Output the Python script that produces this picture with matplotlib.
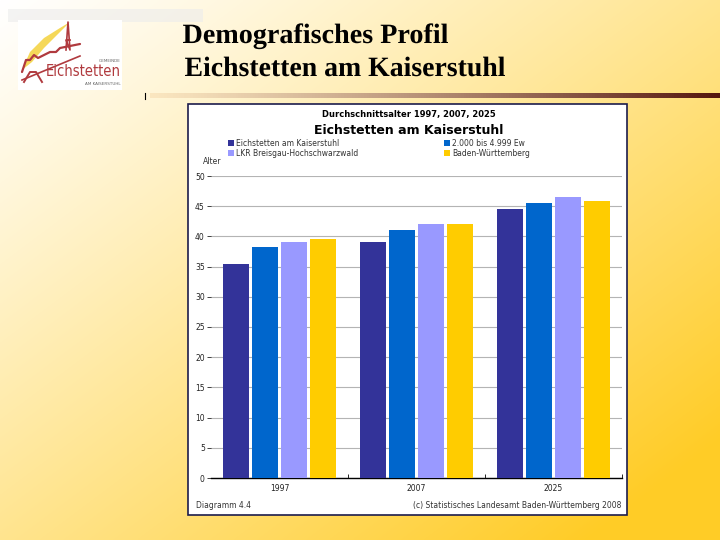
import numpy as np
import matplotlib
matplotlib.use('Agg')
import matplotlib.pyplot as plt
from matplotlib.patches import Rectangle, PathPatch, Polygon
from matplotlib.textpath import TextPath
from matplotlib.font_manager import FontProperties
from matplotlib.transforms import Affine2D

years = ['1997', '2007', '2025']
series = ['Eichstetten am Kaiserstuhl', '2.000 bis 4.999 Ew',
          'LKR Breisgau-Hochschwarzwald', 'Baden-Württemberg']
eichstetten = [35.5, 39.0, 44.6]
gemeinden = [38.2, 41.1, 45.5]
landkreis = [39.1, 42.1, 46.6]
bw = [39.6, 42.1, 45.8]
colors = ['#333399', '#0066cc', '#9999ff', '#ffcc00']

fig = plt.figure(figsize=(7.2, 5.4), dpi=100)

# slide background (pixel coordinates)
bg = fig.add_axes([0, 0, 1, 1])
xx, yy = np.meshgrid(np.linspace(0, 1, 360), np.linspace(0, 1, 270))
t = np.clip(0.55 * xx + 0.55 * yy, 0, 1) ** 1.1
c0 = np.array([1.0, 1.0, 1.0])
c1 = np.array([1.0, 0.80, 0.15])
img = c0[None, None, :] * (1 - t[..., None]) + c1[None, None, :] * t[..., None]
bg.imshow(img, extent=[0, 720, 540, 0], aspect='auto', interpolation='bilinear')
bg.set_xlim(0, 720)
bg.set_ylim(540, 0)
bg.axis('off')

# grey band + logo
bg.add_patch(Rectangle((8, 9), 195, 13, facecolor='#ececec', edgecolor='none', alpha=0.6))
bg.add_patch(Rectangle((18, 20), 104, 70, facecolor='white', edgecolor='none'))
bg.add_patch(Polygon([(22, 70), (30, 52), (44, 38), (60, 28), (70, 22), (58, 34), (44, 48), (32, 62)],
                     closed=True, facecolor='#f4d23c', edgecolor='none', alpha=0.85))
bg.plot([22, 26, 30, 34, 38, 44, 50, 56, 60, 80], [72, 60, 60, 55, 58, 55, 52, 52, 48, 44],
        color='#b03a3e', lw=1.6, solid_capstyle='round')
bg.plot([24, 30, 36, 42], [82, 72, 72, 82], color='#b03a3e', lw=1.4)
bg.plot([66, 68, 70, 66, 70], [50, 22, 50, 40, 40], color='#b03a3e', lw=1.2)
bg.plot([22, 80], [80, 56], color='#b03a3e', lw=1.2)
bg.text(121, 61, 'GEMEINDE', fontsize=3, color='#666666', ha='right', va='center')
bg.text(121, 71, 'Eichstetten', fontsize=10.5, color='#b03a3e', ha='right', va='center',
        family='DejaVu Sans', fontstretch='condensed')
bg.text(121, 84, 'AM KAISERSTUHL', fontsize=3, color='#666666', ha='right', va='center')

# slide title (vertically stretched serif)
fp = FontProperties(family='Liberation Serif', weight='bold')
for txt, x0, base, width in [('Demografisches Profil', 183, 43, 265),
                             ('Eichstetten am Kaiserstuhl', 185, 76, 320)]:
    tp = TextPath((0, 0), txt, size=1, prop=fp)
    ext = tp.get_extents()
    sx = width / ext.width
    sy = 18.5 / 0.662
    tr = Affine2D().translate(-ext.x0, 0).scale(sx, -sy).translate(x0, base) + bg.transData
    bg.add_patch(PathPatch(tp, transform=tr, facecolor='black', edgecolor='none'))

# header rule
n = 200
xs = np.linspace(150, 720, n + 1)
rule_start = np.array([0.98, 0.90, 0.75])
rule_end = np.array([0.33, 0.08, 0.05])
for i in range(n):
    f = (i / n) ** 1.2
    col = rule_start * (1 - f) + rule_end * f
    bg.add_patch(Rectangle((xs[i], 93), xs[i + 1] - xs[i] + 0.3, 5, facecolor=col, edgecolor='none'))
bg.plot([145, 145], [93, 99], color='black', lw=0.8)

# chart frame
bg.add_patch(Rectangle((188, 104), 439, 411, facecolor='white', edgecolor='#1c1c4c', lw=1.2))
bg.text(409, 115, 'Durchschnittsalter 1997, 2007, 2025', fontsize=6, fontweight='bold',
        ha='center', va='center')
bg.text(409, 130, 'Eichstetten am Kaiserstuhl', fontsize=9, fontweight='bold',
        ha='center', va='center')
leg_pos = [(231, 143), (447, 143), (231, 153), (447, 153)]
for (lx, ly), name, col in zip(leg_pos, series, colors):
    bg.add_patch(Rectangle((lx - 3, ly - 3), 6, 6, facecolor=col, edgecolor='none'))
    bg.text(lx + 5, ly, name, fontsize=5.5, ha='left', va='center', color='#333333')
bg.text(203, 162, 'Alter', fontsize=5.5, ha='left', va='center', color='#333333')
bg.text(196, 506, 'Diagramm 4.4', fontsize=5.5, ha='left', va='center', color='#333333')
bg.text(621, 506, '(c) Statistisches Landesamt Baden-Württemberg 2008', fontsize=5.5,
        ha='right', va='center', color='#333333')

# bar chart
ax = fig.add_axes([211 / 720, (540 - 478) / 540, 411 / 720, 302 / 540])
ax.patch.set_alpha(0)
x = np.arange(len(years))
step = 0.212
w = 0.19
for i, (vals, col) in enumerate(zip([eichstetten, gemeinden, landkreis, bw], colors)):
    ax.bar(x + (i - 1.5) * step, vals, width=w, color=col, zorder=3)
ax.set_xlim(-0.5, 2.5)
ax.set_ylim(0, 50)
ax.set_yticks(np.arange(0, 51, 5))
ax.yaxis.grid(True, color='#b4b4b4', lw=0.8, zorder=0)
ax.set_axisbelow(True)
for s in ['top', 'right', 'left']:
    ax.spines[s].set_visible(False)
ax.spines['bottom'].set_color('black')
ax.spines['bottom'].set_linewidth(1.0)
ax.tick_params(axis='y', length=3, pad=1.5, labelsize=5.5, colors='#222222', width=0.6)
ax.set_xticks(x)
ax.set_xticklabels(years)
ax.tick_params(axis='x', length=0, pad=4, labelsize=5.5, colors='#222222')
ax.set_xticks([0.5, 1.5, 2.5], minor=True)
ax.tick_params(axis='x', which='minor', direction='in', length=3, width=0.6)

fig.savefig('out.png', dpi=100)
